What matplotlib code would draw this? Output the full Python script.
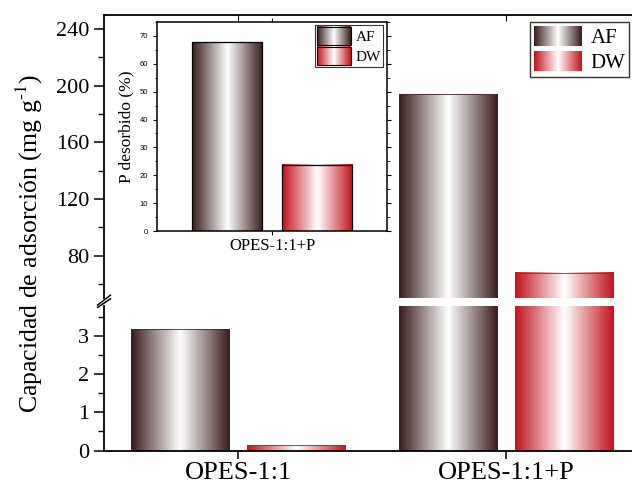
import matplotlib
matplotlib.use('Agg')
import matplotlib.pyplot as plt
import numpy as np
from matplotlib.colors import LinearSegmentedColormap
from matplotlib.legend_handler import HandlerBase
from matplotlib.image import BboxImage
from matplotlib.transforms import Bbox, TransformedBbox
from matplotlib.patches import Patch, Rectangle
from matplotlib.ticker import MultipleLocator

plt.rcParams['font.family'] = ['Liberation Serif', 'DejaVu Serif']
plt.rcParams['mathtext.fontset'] = 'stix'

# datos
categories = ['OPES-1:1', 'OPES-1:1+P']
af_values = [3.2, 194]
dw_values = [0.15, 68]
series_labels = ['AF', 'DW']

inset_categories = ['OPES-1:1+P']
inset_af = [67.8]
inset_dw = [23.7]

# colores tipo degradado (oscuro - blanco - oscuro)
af_cmap = LinearSegmentedColormap.from_list('af', ['#3a1b1b', '#ffffff', '#3a1b1b'])
dw_cmap = LinearSegmentedColormap.from_list('dw', ['#c2121b', '#ffffff', '#c2121b'])
grad = np.linspace(0, 1, 256)[None, :]


def gradient_bars(ax, x, h, width, cmap, edge, lw):
    bars = ax.bar(x, h, width, color='none', edgecolor=edge, linewidth=lw, zorder=3)
    for r in bars:
        x0, y0 = r.get_x(), r.get_y()
        ax.imshow(grad, cmap=cmap, aspect='auto', interpolation='bilinear',
                  extent=[x0, x0 + r.get_width(), y0, y0 + r.get_height()], zorder=2)
    return bars


class GradientHandler(HandlerBase):
    def __init__(self, cmap, edge=None):
        super().__init__()
        self.cmap = cmap
        self.edge = edge

    def create_artists(self, legend, orig_handle, xdescent, ydescent,
                       width, height, fontsize, trans):
        bb = TransformedBbox(Bbox.from_bounds(-xdescent, -ydescent, width, height), trans)
        img = BboxImage(bb, cmap=self.cmap, interpolation='bilinear')
        img.set_data(grad)
        out = [img]
        if self.edge:
            out.append(Rectangle((-xdescent, -ydescent), width, height, fc='none',
                                 ec=self.edge, lw=0.8, transform=trans))
        return out


W, H = 632, 487
fig = plt.figure(figsize=(W / 100, H / 100), dpi=100)

left, right = 104 / W, 640 / W
ax_up = fig.add_axes([left, 1 - 298 / H, right - left, (298 - 15) / H])
ax_lo = fig.add_axes([left, 1 - 450.5 / H, right - left, (450.5 - 306) / H])

x = np.arange(len(categories))
bw, off = 0.366, 0.217
for ax in (ax_up, ax_lo):
    gradient_bars(ax, x - off, af_values, bw, af_cmap, '#4a2222', 0.6)
    gradient_bars(ax, x + off, dw_values, bw, dw_cmap, '#c2121b', 0.6)
    ax.set_xlim(-0.5, 1.5)
    for s in ax.spines.values():
        s.set_linewidth(1.3)
    ax.tick_params(axis='y', which='major', direction='out', length=7, width=1.1, labelsize=16)
    ax.tick_params(axis='y', which='minor', direction='out', length=4, width=1.0)

ax_up.set_ylim(50, 250)
ax_up.yaxis.set_minor_locator(MultipleLocator(20))
ax_up.set_yticks([80, 120, 160, 200, 240])
ax_up.spines['bottom'].set_visible(False)
ax_up.tick_params(axis='x', bottom=False, labelbottom=False, top=True, direction='in', length=4)
ax_up.set_xticks(x)

ax_lo.set_ylim(0, 3.8)
ax_lo.yaxis.set_major_locator(MultipleLocator(1))
ax_lo.yaxis.set_minor_locator(MultipleLocator(0.5))
ax_lo.spines['top'].set_visible(False)
ax_lo.set_xticks(x)
ax_lo.set_xticklabels(categories, fontsize=19)
ax_lo.tick_params(axis='x', direction='out', length=6, width=1.1, pad=2)

# marcas de corte
d = 0.012
kw = dict(color='k', lw=1.1, clip_on=False)
for xx in (0, 1):
    ax_up.plot([xx - d, xx + d], [-0.025, 0.01], transform=ax_up.transAxes, **kw)
    ax_lo.plot([xx - d, xx + d], [0.99, 1.05], transform=ax_lo.transAxes, **kw)

fig.text(29 / W, 1 - 243 / H, r'Capacidad de adsorción (mg g$^{\text{-1}}$)',
         rotation=90, ha='center', va='center', fontsize=18.5)

h_af = Patch(label=series_labels[0])
h_dw = Patch(label=series_labels[1])
leg = ax_up.legend(handles=[h_af, h_dw],
                   handler_map={h_af: GradientHandler(af_cmap), h_dw: GradientHandler(dw_cmap)},
                   loc='upper left', bbox_to_anchor=(530 / W, 1 - 22 / H),
                   bbox_transform=fig.transFigure, fontsize=15, frameon=True, fancybox=False,
                   edgecolor='k', handlelength=2.3, handleheight=1.1, labelspacing=0.12,
                   borderpad=0.2, handletextpad=0.4, borderaxespad=0)
leg.get_frame().set_linewidth(1.0)

# inserto
axi = fig.add_axes([157 / W, 1 - 231 / H, 230 / W, 209 / H])
xi = np.arange(len(inset_categories))
gradient_bars(axi, xi - 0.235, inset_af, 0.366, af_cmap, 'k', 0.9)
gradient_bars(axi, xi + 0.235, inset_dw, 0.366, dw_cmap, 'k', 0.9)
axi.set_xlim(-0.6, 0.6)
axi.set_ylim(0, 75)
axi.set_xticks(xi)
axi.set_xticklabels(inset_categories, fontsize=12)
axi.yaxis.set_major_locator(MultipleLocator(10))
axi.yaxis.set_minor_locator(MultipleLocator(5))
axi.tick_params(axis='y', which='both', direction='out', right=True, labelsize=5.5)
axi.tick_params(axis='y', which='major', length=3, width=0.8)
axi.tick_params(axis='y', which='minor', length=1.8, width=0.6)
axi.tick_params(axis='x', direction='out', length=3, width=0.8, top=True, pad=2)
for lab in axi.get_yticklabels():
    lab.set_fontfamily('Liberation Sans')
for s in axi.spines.values():
    s.set_linewidth(1.1)
axi.set_ylabel('P desorbido (%)', fontsize=12.5, labelpad=4)

hi_af = Patch(label=series_labels[0])
hi_dw = Patch(label=series_labels[1])
legi = axi.legend(handles=[hi_af, hi_dw],
                  handler_map={hi_af: GradientHandler(af_cmap, 'k'), hi_dw: GradientHandler(dw_cmap, 'k')},
                  loc='upper left', bbox_to_anchor=(315 / W, 1 - 25 / H),
                  bbox_transform=fig.transFigure, fontsize=11, frameon=True, fancybox=False,
                  edgecolor='k', handlelength=2.2, handleheight=1.45, labelspacing=0.1,
                  borderpad=0.15, handletextpad=0.3, borderaxespad=0)
legi.get_frame().set_linewidth(0.8)

plt.savefig('out.png', dpi=100)
plt.close()
